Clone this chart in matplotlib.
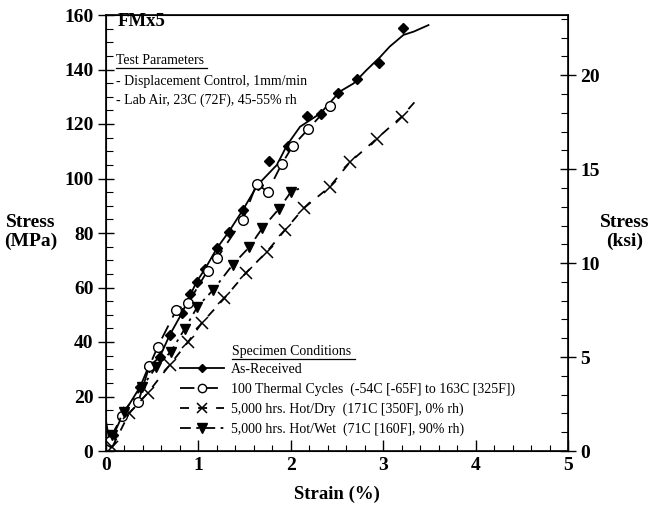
import matplotlib
matplotlib.use("Agg")
import matplotlib.pyplot as plt
from matplotlib.lines import Line2D
from matplotlib.ticker import MultipleLocator

plt.rcParams['font.family'] = ['Liberation Serif', 'DejaVu Serif']

# ---------------- data ----------------
# As-Received: continuous curve and diamond markers
ar_line_x = [0.0, 0.04, 0.08, 0.18, 0.37, 0.46, 0.58, 0.69, 0.82, 0.98, 1.07, 1.20, 1.33, 1.48,
             1.64, 1.85, 1.96, 2.10, 2.32, 2.53, 2.68, 2.82, 2.97, 3.07, 3.22, 3.33, 3.49]
ar_line_y = [11.0, 3.0, 5.9, 13.2, 23.6, 30.9, 34.4, 42.6, 50.5, 62.1, 66.7, 74.4, 80.5, 88.4,
             97.6, 105.0, 112.3, 119.0, 123.9, 131.9, 134.9, 139.8, 144.7, 148.4, 152.7, 153.9, 156.3]
ar_mk_x = [0.04, 0.08, 0.18, 0.37, 0.46, 0.58, 0.69, 0.82, 0.91, 0.98, 1.07, 1.20, 1.33, 1.48,
           1.64, 1.76, 1.97, 2.18, 2.33, 2.51, 2.72, 2.95, 3.21]
ar_mk_y = [3.4, 5.9, 13.2, 23.6, 30.9, 34.4, 42.6, 50.5, 57.5, 62.1, 66.7, 74.4, 80.5, 88.4,
           97.6, 106.5, 111.9, 122.9, 123.7, 131.5, 136.5, 142.5, 155.1]

# 100 Thermal Cycles
tc_x = [0.04, 0.17, 0.35, 0.47, 0.56, 0.76, 0.89, 1.10, 1.20, 1.48, 1.63, 1.75, 1.90, 2.02, 2.19, 2.42]
tc_y = [3.7, 13.0, 18.1, 31.2, 38.3, 51.7, 54.4, 66.2, 70.7, 84.8, 98.0, 95.2, 105.2, 111.9, 118.2, 126.7]

# 5,000 hrs Hot/Dry
hd_x = [0.07, 0.25, 0.45, 0.69, 0.89, 1.04, 1.28, 1.51, 1.74, 1.94, 2.14, 2.42, 2.64, 2.93, 3.20, 3.36]
hd_y = [1.6, 13.8, 21.2, 31.6, 40.1, 47.1, 56.0, 65.2, 73.1, 81.2, 89.1, 96.9, 106.0, 114.6, 122.7, 128.8]
hd_mk_n = 15  # last point is line end only

# 5,000 hrs Hot/Wet
hw_x = [0.07, 0.19, 0.39, 0.54, 0.70, 0.85, 0.99, 1.16, 1.37, 1.55, 1.69, 1.87, 2.00, 2.14]
hw_y = [5.9, 14.4, 23.4, 30.7, 36.4, 44.7, 53.0, 59.1, 68.3, 74.8, 81.7, 88.8, 95.0, 97.0]
hw_mk_n = 13

labels = ["As-Received",
          "100 Thermal Cycles  (-54C [-65F] to 163C [325F])",
          "5,000 hrs. Hot/Dry  (171C [350F], 0% rh)",
          "5,000 hrs. Hot/Wet  (71C [160F], 90% rh)"]

MPA_PER_KSI = 6.894757

# ---------------- figure ----------------
fig = plt.figure(figsize=(6.64, 5.09), dpi=100)
W, H = 664, 509
ax = fig.add_axes([106 / W, 1 - 451 / H, (568 - 106) / W, (451 - 15) / H])

lw = 1.3
ax.plot(ar_line_x, ar_line_y, color='black', lw=lw, ls='-')
ax.plot(ar_mk_x, ar_mk_y, ls='none', marker='D', ms=5, color='black')

ax.plot(tc_x, tc_y, color='black', lw=lw, ls=(0, (8, 5)), marker='o', ms=7,
        mfc='white', mec='black', mew=1.0)

ax.plot(hd_x, hd_y, color='black', lw=lw, ls=(0, (5, 5)))
ax.plot(hd_x[:hd_mk_n], hd_y[:hd_mk_n], ls='none', marker='x', ms=8, mew=1.1, color='black')

ax.plot(hw_x, hw_y, color='black', lw=lw, ls=(0, (6, 3, 1.5, 3)))
ax.plot(hw_x[:hw_mk_n], hw_y[:hw_mk_n], ls='none', marker='v', ms=7, color='black')

ax.set_xlim(0, 5)
ax.set_ylim(0, 160)
ax.xaxis.set_major_locator(MultipleLocator(1))
ax.xaxis.set_minor_locator(MultipleLocator(0.2))
ax.yaxis.set_major_locator(MultipleLocator(20))
ax.yaxis.set_minor_locator(MultipleLocator(5))
ax.tick_params(axis='x', which='major', direction='in', length=8, width=1, labelsize=14, pad=4)
ax.tick_params(axis='x', which='minor', direction='in', length=4, width=0.8)
ax.tick_params(axis='y', which='major', direction='inout', length=12, width=1, labelsize=14, pad=3)
ax.tick_params(axis='y', which='minor', direction='in', length=5, width=0.8)
for lab in ax.get_xticklabels() + ax.get_yticklabels():
    lab.set_fontweight('bold')
for s in ax.spines.values():
    s.set_linewidth(1.2)

ax2 = ax.twinx()
ax2.set_ylim(0, 160 / MPA_PER_KSI)
ax2.yaxis.set_major_locator(MultipleLocator(5))
ax2.yaxis.set_minor_locator(MultipleLocator(1))
ax2.tick_params(axis='y', which='major', direction='inout', length=12, width=1, labelsize=14, pad=3)
ax2.tick_params(axis='y', which='minor', direction='in', length=5, width=0.8)
for lab in ax2.get_yticklabels():
    lab.set_fontweight('bold')

# axis labels
fig.text(31 / W, 1 - 232 / H, "Stress\n(MPa)", ha='center', va='center',
         fontsize=14, fontweight='bold', linespacing=1.15)
fig.text(625 / W, 1 - 232 / H, "Stress\n(ksi)", ha='center', va='center',
         fontsize=14, fontweight='bold', linespacing=1.15)
fig.text(337 / W, 1 - 494 / H, "Strain (%)", ha='center', va='center',
         fontsize=13.5, fontweight='bold')

# annotations top-left
fig.text(118 / W, 1 - 22 / H, "FMx5", ha='left', va='center', fontsize=13.5, fontweight='bold')
fig.text(116 / W, 1 - 61 / H, "Test Parameters", ha='left', va='center', fontsize=10)
fig.add_artist(Line2D([116 / W, 207 / W], [1 - 68 / H, 1 - 68 / H], color='black', lw=0.9))
fig.text(116 / W, 1 - 81 / H, "- Displacement Control, 1mm/min", ha='left', va='center', fontsize=10)
fig.text(116 / W, 1 - 100 / H, "- Lab Air, 23C (72F), 45-55% rh", ha='left', va='center', fontsize=10)

# legend
fig.text(232 / W, 1 - 352 / H, "Specimen Conditions", ha='left', va='center', fontsize=10)
fig.add_artist(Line2D([232 / W, 355 / W], [1 - 359 / H, 1 - 359 / H], color='black', lw=0.9))
handles = [
    Line2D([], [], color='black', lw=lw, ls='-', marker='D', ms=4.5),
    Line2D([], [], color='black', lw=lw, ls=(0, (8, 5)), marker='o', ms=6, mfc='white', mew=1.0),
    Line2D([], [], color='black', lw=lw, ls=(0, (5, 5)), marker='x', ms=7, mew=1.1),
    Line2D([], [], color='black', lw=lw, ls=(0, (6, 3, 1.5, 3)), marker='v', ms=6.5),
]
ax.legend(handles, labels, loc='upper left', bbox_to_anchor=(180 / W, 1 - 363 / H),
          bbox_transform=fig.transFigure, frameon=False, fontsize=10, handlelength=3.2,
          handletextpad=0.45, labelspacing=0.47, borderaxespad=0, borderpad=0, numpoints=1)

fig.savefig("out.png", dpi=100)
